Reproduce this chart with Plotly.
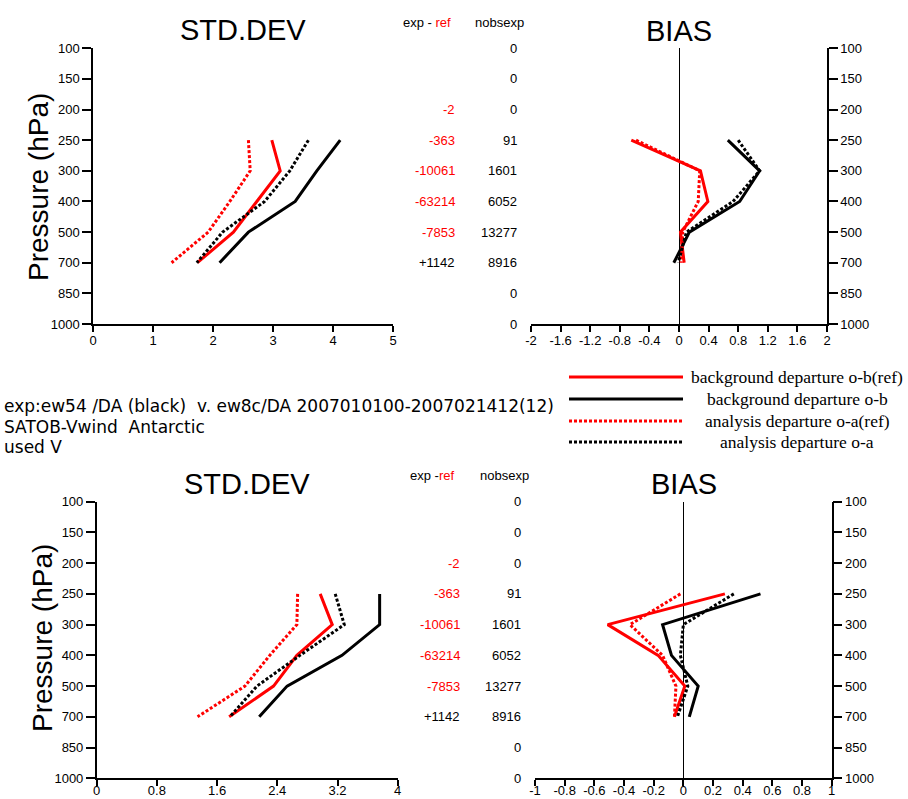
import plotly.graph_objects as go

W, H = 908, 799

levels = ["100", "150", "200", "250", "300", "400", "500", "700", "850", "1000"]
data_levels = ["250", "300", "400", "500", "700"]

# Top panel (STD.DEV) values
top_std_bg_ref = [2.98, 3.12, 2.73, 2.34, 1.74]
top_std_bg_exp = [4.12, 3.73, 3.37, 2.59, 2.11]
top_std_an_ref = [2.59, 2.62, 2.28, 1.92, 1.31]
top_std_an_exp = [3.59, 3.28, 2.86, 2.16, 1.73]
# Top panel (BIAS) values
top_bias_bg_ref = [-0.645, 0.29, 0.39, 0.02, 0.07]
top_bias_bg_exp = [0.66, 1.09, 0.82, 0.14, -0.07]
top_bias_an_ref = [-0.58, 0.28, 0.26, 0.05, 0.03]
top_bias_an_exp = [0.80, 1.09, 0.73, 0.10, -0.01]
# Bottom panel (STD.DEV) values
bot_std_bg_ref = [2.97, 3.13, 2.66, 2.35, 1.76]
bot_std_bg_exp = [3.76, 3.76, 3.26, 2.53, 2.16]
bot_std_an_ref = [2.67, 2.66, 2.30, 1.97, 1.34]
bot_std_an_exp = [3.17, 3.29, 2.70, 2.13, 1.77]
# Bottom panel (BIAS) values
bot_bias_bg_ref = [0.28, -0.51, -0.17, 0.01, -0.06]
bot_bias_bg_exp = [0.52, -0.14, -0.08, 0.10, 0.04]
bot_bias_an_ref = [-0.02, -0.36, -0.14, -0.05, -0.06]
bot_bias_an_exp = [0.34, 0.00, -0.02, 0.03, -0.04]

# Middle columns
exp_minus_ref = ["", "", "-2", "-363", "-10061", "-63214", "-7853", "+1142", "", ""]
nobsexp = ["0", "0", "0", "91", "1601", "6052", "13277", "8916", "0", "0"]

# Tick labels
top_std_ticks = [0, 1, 2, 3, 4, 5]
top_std_ticktext = ["0", "1", "2", "3", "4", "5"]
top_bias_ticks = [-2, -1.6, -1.2, -0.8, -0.4, 0, 0.4, 0.8, 1.2, 1.6, 2]
top_bias_ticktext = ["-2", "-1.6", "-1.2", "-0.8", "-0.4", "0", "0.4", "0.8", "1.2", "1.6", "2"]
bot_std_ticks = [0, 0.8, 1.6, 2.4, 3.2, 4]
bot_std_ticktext = ["0", "0.8", "1.6", "2.4", "3.2", "4"]
bot_bias_ticks = [-1, -0.8, -0.6, -0.4, -0.2, 0, 0.2, 0.4, 0.6, 0.8, 1]
bot_bias_ticktext = ["-1", "-0.8", "-0.6", "-0.4", "-0.2", "0", "0.2", "0.4", "0.6", "0.8", "1"]

legend_labels = ["background departure o-b(ref)", "background departure o-b",
                 "analysis departure o-a(ref)", "analysis departure o-a"]
info_lines = ["exp:ew54 /DA (black)  v. ew8c/DA 2007010100-2007021412(12)",
              "SATOB-Vwind  Antarctic", "used V"]

RED = "#ff0000"
BLACK = "#000000"
DOT = "3px,2px"
styles = [dict(color=RED, width=3, dash="solid"),
          dict(color=BLACK, width=3, dash="solid"),
          dict(color=RED, width=3, dash=DOT),
          dict(color=BLACK, width=3, dash=DOT)]

SANS = "Liberation Sans, Arial, sans-serif"
WIDE = "DejaVu Sans, sans-serif"
SERIF = "Liberation Serif, Times New Roman, serif"

def px(x):
    return x / W

def py(y):
    return 1 - y / H

yidx = [levels.index(l) for l in data_levels]

fig = go.Figure()

panels = [
    ("x", "y", [top_std_bg_ref, top_std_bg_exp, top_std_an_ref, top_std_an_exp]),
    ("x2", "y2", [top_bias_bg_ref, top_bias_bg_exp, top_bias_an_ref, top_bias_an_exp]),
    ("x3", "y3", [bot_std_bg_ref, bot_std_bg_exp, bot_std_an_ref, bot_std_an_exp]),
    ("x4", "y4", [bot_bias_bg_ref, bot_bias_bg_exp, bot_bias_an_ref, bot_bias_an_exp]),
]
for xa, ya, series in panels:
    for name, vals, st in zip(legend_labels, series, styles):
        fig.add_trace(go.Scatter(x=vals, y=yidx, mode="lines", name=name,
                                 line=st, xaxis=xa, yaxis=ya, showlegend=False,
                                 hoverinfo="skip", cliponaxis=False))

tickfont = dict(family=SANS, size=13, color="black")

def xax(domain, anchor, rng, tv, tt, zeroline=False, standoff=0):
    return dict(domain=domain, anchor=anchor, range=rng, tickvals=tv, ticktext=tt,
                showline=True, linecolor="black", linewidth=1.5, mirror=False,
                ticks="outside", ticklen=6, tickwidth=1.5, tickcolor="black",
                ticklabelstandoff=standoff,
                showgrid=False, zeroline=zeroline, zerolinecolor="black",
                zerolinewidth=1, tickfont=tickfont, fixedrange=True, automargin=False)

def yax(domain, anchor, side):
    return dict(domain=domain, anchor=anchor, range=[len(levels) - 1, 0],
                tickvals=list(range(len(levels))), ticktext=levels, side=side,
                showline=True, linecolor="black", linewidth=1.5,
                ticks="outside", ticklen=9, tickwidth=1.5, tickcolor="black",
                showgrid=False, zeroline=False, tickfont=tickfont, fixedrange=True,
                automargin=False)

top_y = [py(324), py(48.3)]
bot_y = [py(778.3), py(501.7)]

fig.update_layout(
    template="none",
    width=W, height=H, margin=dict(l=0, r=0, t=0, b=0, pad=0, autoexpand=False),
    paper_bgcolor="white", plot_bgcolor="white", showlegend=False,
    xaxis=xax([px(93), px(393)], "y", [0, 5], top_std_ticks, top_std_ticktext, standoff=-2),
    yaxis=yax(top_y, "x", "left"),
    xaxis2=xax([px(531), px(827)], "y2", [-2, 2], top_bias_ticks, top_bias_ticktext, True, -2),
    yaxis2=yax(top_y, "x2", "right"),
    xaxis3=xax([px(96.7), px(397.7)], "y3", [0, 4], bot_std_ticks, bot_std_ticktext, standoff=-7),
    yaxis3=yax(bot_y, "x3", "left"),
    xaxis4=xax([px(535), px(831.7)], "y4", [-1, 1], bot_bias_ticks, bot_bias_ticktext, True, -7),
    yaxis4=yax(bot_y, "x4", "right"),
)

ann = []
def text(x, y, s, size, anchor="center", family=SANS, color="black", yref="paper", textangle=0):
    ann.append(dict(x=x, y=y, xref="paper", yref=yref, text=s, showarrow=False,
                    xanchor=anchor, yanchor="middle", textangle=textangle,
                    font=dict(family=family, size=size, color=color)))

# Titles
text(px(243), py(30), "STD.DEV", 29)
text(px(679), py(31), "BIAS", 29)
text(px(247), py(484), "STD.DEV", 29)
text(px(684), py(484), "BIAS", 29)
# Y titles
text(px(38), py(187), "Pressure (hPa)", 28, textangle=-90)
text(px(42), py(638), "Pressure (hPa)", 28, textangle=-90)

# Middle column headers
text(px(427), py(23), "exp - <span style='color:#ff0000'>ref</span>", 13)
text(px(499), py(23), "nobsexp", 13)
text(px(432), py(475), "exp -<span style='color:#ff0000'>ref</span>", 13)
text(px(504), py(475), "nobsexp", 13)

# Middle column numbers
for yref, xr1, xr2 in [("y", 457, 518.5), ("y3", 462, 523)]:
    for i, (d, n) in enumerate(zip(exp_minus_ref, nobsexp)):
        if d:
            col = BLACK if d.startswith("+") else RED
            text(px(xr1), i, d, 13, anchor="right", color=col, yref=yref)
        text(px(xr2), i, n, 13, anchor="right", yref=yref)

# Info text
for i, s in enumerate(info_lines):
    text(px(2), py([406, 427, 447][i]), s, 17, anchor="left", family=WIDE)

# Legend
shapes = []
leg_y = [377, 399, 421, 442]
for st, lab, yy in zip(styles, legend_labels, leg_y):
    shapes.append(dict(type="line", xref="paper", yref="paper", x0=px(569), x1=px(683),
                       y0=py(yy), y1=py(yy), line=st))
    text(px(797), py(yy), lab, 17.5, family=SERIF)

fig.update_layout(annotations=ann, shapes=shapes)
fig.write_html("out.html", config={"displayModeBar": False},
               post_script="document.body.style.margin='0';document.body.style.overflow='hidden';")
